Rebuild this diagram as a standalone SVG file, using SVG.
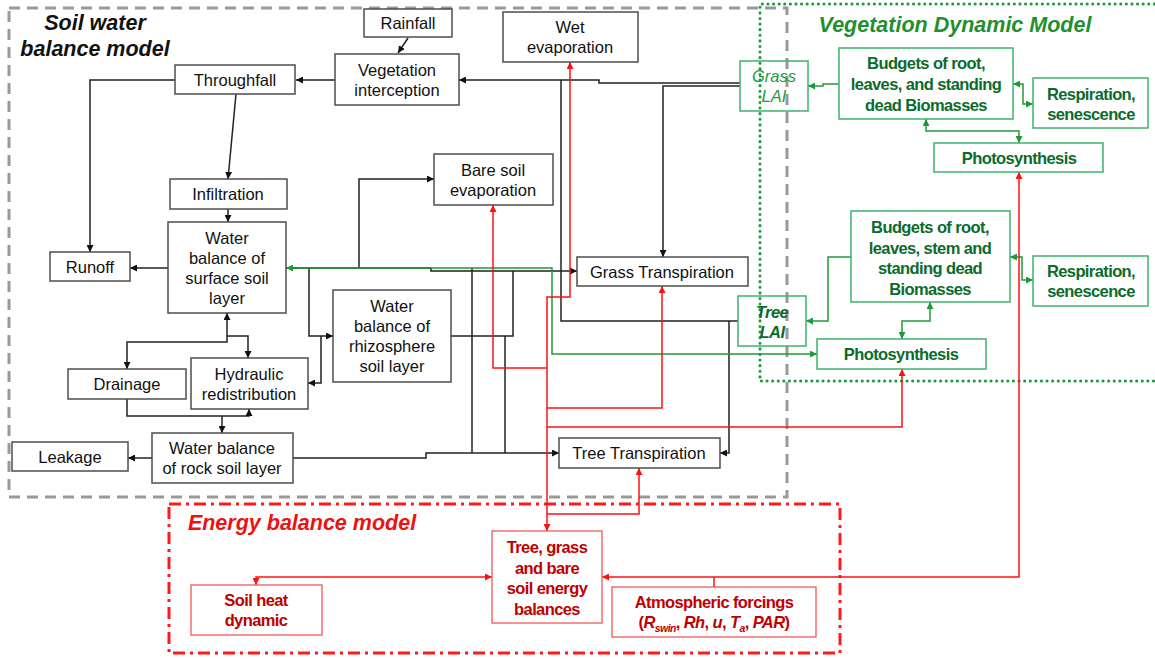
<svg xmlns="http://www.w3.org/2000/svg" width="1155" height="659" viewBox="0 0 1155 659">
<style>
text{font-family:"Liberation Sans",Arial,sans-serif;text-anchor:middle}
.bt{font-size:16.5px;fill:#111}
.gt{font-size:16.5px;font-weight:bold;fill:#0b6b2b;letter-spacing:-0.6px}
.rt{font-size:16.5px;font-weight:bold;fill:#c00000;letter-spacing:-0.6px}
.title{font-size:21.5px;font-weight:bold;font-style:italic}
.bn{fill:#fff;stroke:#4d4d4d;stroke-width:1.5}
.gn{fill:#fff;stroke:#3cb46e;stroke-width:1.5}
.gl{fill:none;stroke:#3cb46e;stroke-width:1.5}
.rn{fill:#fff;stroke:#f05a5a;stroke-width:1.3}
.c{fill:none;stroke:#222;stroke-width:1.5}
.g{fill:none;stroke:#1e9a3a;stroke-width:1.5}
.r{fill:none;stroke:#ff1010;stroke-width:1.5}
</style>
<defs>
<marker id="ak" viewBox="0 0 10 10" refX="10" refY="5" markerWidth="7" markerHeight="7" markerUnits="userSpaceOnUse" orient="auto-start-reverse"><path d="M0,0 L10,5 L0,10 z" fill="#111"/></marker>
<marker id="ag" viewBox="0 0 10 10" refX="10" refY="5" markerWidth="7" markerHeight="7" markerUnits="userSpaceOnUse" orient="auto-start-reverse"><path d="M0,0 L10,5 L0,10 z" fill="#1e9a3a"/></marker>
<marker id="ar" viewBox="0 0 10 10" refX="10" refY="5" markerWidth="7" markerHeight="7" markerUnits="userSpaceOnUse" orient="auto-start-reverse"><path d="M0,0 L10,5 L0,10 z" fill="#ff1010"/></marker>
</defs>

<g id="frames">
<rect x="9" y="8" width="778" height="489" fill="none" stroke="#999" stroke-width="3" stroke-dasharray="11 7"/>
<path d="M1160,4 H760 V381 H1160" fill="none" stroke="#1a9a3a" stroke-width="3" stroke-dasharray="0.1 5.5" stroke-linecap="round"/>
<rect x="169" y="504" width="671" height="149" fill="none" stroke="#ff1a1a" stroke-width="3" stroke-dasharray="12 5 3 5"/>
<text class="title" x="95" y="30" fill="#111">Soil water</text>
<text class="title" x="95" y="56" fill="#111">balance model</text>
<text class="title" x="955" y="32" fill="#1f8f2f">Vegetation Dynamic Model</text>
<text class="title" x="302" y="530" fill="#ee1111">Energy balance model</text>
</g>

<g id="connectors">
<path class="c" d="M408,38 L398,53" marker-end="url(#ak)"/>
<path class="c" d="M335,80 H296" marker-end="url(#ak)"/>
<path class="c" d="M175,80 H90 V252" marker-end="url(#ak)"/>
<path class="c" d="M236,94 L228,179" marker-end="url(#ak)"/>
<path class="c" d="M228,209 V222" marker-end="url(#ak)"/>
<path class="c" d="M168,268 H130" marker-end="url(#ak)"/>
<path class="c" d="M227,313 V342 H127 V369" marker-start="url(#ak)" marker-end="url(#ak)"/>
<path class="c" d="M227,336 H248 V358" marker-end="url(#ak)"/>
<path class="c" d="M127,399 V416 H249 V409" marker-end="url(#ak)"/>
<path class="c" d="M222,416 V433" marker-end="url(#ak)"/>
<path class="c" d="M152,458 H128" marker-end="url(#ak)"/>
<path class="c" d="M293,458 H426 V453 H559" marker-end="url(#ak)"/>
<path class="c" d="M286,268 H431 V271 H577" marker-end="url(#ak)"/>
<path class="c" d="M309,268 V336 H333" marker-end="url(#ak)"/>
<path class="c" d="M321,336 V383 H308" marker-end="url(#ak)"/>
<path class="c" d="M359,268 V179 H434" marker-end="url(#ak)"/>
<path class="c" d="M472,268 V453"/>
<path class="c" d="M451,336 H513 V271"/>
<path class="c" d="M505,336 V453"/>
<path class="c" d="M740,83 H599 V80 H459" marker-end="url(#ak)"/>
<path class="c" d="M740,86 H663 V257" marker-end="url(#ak)"/>
<path class="c" d="M738,321 H561 V80"/>
<path class="c" d="M729,321 V453 H720" marker-end="url(#ak)"/>

<path class="g" d="M286,268 H552 V354 H817" marker-start="url(#ag)" marker-end="url(#ag)"/>
<path class="g" d="M839,84 H823 V86 H808" marker-end="url(#ag)"/>
<path class="g" d="M1013,84 H1023 V104 H1033" marker-start="url(#ag)" marker-end="url(#ag)"/>
<path class="g" d="M926,119 V131 H1019 V143" marker-start="url(#ag)" marker-end="url(#ag)"/>
<path class="g" d="M851,257 H828 V321 H806" marker-end="url(#ag)"/>
<path class="g" d="M1010,257 H1022 V280 H1033" marker-start="url(#ag)" marker-end="url(#ag)"/>
<path class="g" d="M930,302 V321 H902 V339" marker-start="url(#ag)" marker-end="url(#ag)"/>

<path class="r" d="M547,531 V297 H570 V62" marker-start="url(#ar)" marker-end="url(#ar)"/>
<path class="r" d="M547,368 H493 V205" marker-end="url(#ar)"/>
<path class="r" d="M547,408 H662 V286" marker-end="url(#ar)"/>
<path class="r" d="M547,427 H902 V369" marker-end="url(#ar)"/>
<path class="r" d="M547,514 H639 V468" marker-end="url(#ar)"/>
<path class="r" d="M602,577 H1019 V172" marker-start="url(#ar)" marker-end="url(#ar)"/>
<path class="r" d="M714,577 V587"/>
<path class="r" d="M256,585 V577 H492" marker-start="url(#ar)" marker-end="url(#ar)"/>
</g>

<g id="rainfall"><rect class="bn" x="364" y="9" width="88" height="28"/><text class="bt" x="408" y="29">Rainfall</text></g>
<g id="wet-evaporation"><rect class="bn" x="503" y="12" width="135" height="50"/><text class="bt" x="570" y="33">Wet</text><text class="bt" x="570" y="53">evaporation</text></g>
<g id="vegetation-interception"><rect class="bn" x="335" y="54" width="124" height="51"/><text class="bt" x="397" y="75.5">Vegetation</text><text class="bt" x="397" y="95.5">interception</text></g>
<g id="throughfall"><rect class="bn" x="175" y="65" width="120" height="29"/><text class="bt" x="235" y="85.5">Throughfall</text></g>
<g id="infiltration"><rect class="bn" x="170" y="179" width="117" height="30"/><text class="bt" x="228" y="200">Infiltration</text></g>
<g id="surface-soil"><rect class="bn" x="168" y="222" width="118" height="91"/><text class="bt" x="227" y="243.5">Water</text><text class="bt" x="227" y="263.5">balance of</text><text class="bt" x="227" y="283.5">surface soil</text><text class="bt" x="227" y="303.5">layer</text></g>
<g id="runoff"><rect class="bn" x="50" y="252" width="80" height="29"/><text class="bt" x="90" y="272.5">Runoff</text></g>
<g id="drainage"><rect class="bn" x="68" y="369" width="118" height="30"/><text class="bt" x="127" y="390">Drainage</text></g>
<g id="hydraulic"><rect class="bn" x="191" y="358" width="117" height="51"/><text class="bt" x="249" y="379.5">Hydraulic</text><text class="bt" x="249" y="399.5">redistribution</text></g>
<g id="leakage"><rect class="bn" x="12" y="442" width="116" height="29"/><text class="bt" x="70" y="462.5">Leakage</text></g>
<g id="rock-soil"><rect class="bn" x="152" y="433" width="141" height="50"/><text class="bt" x="222" y="454">Water balance</text><text class="bt" x="222" y="474">of rock soil layer</text></g>
<g id="bare-soil"><rect class="bn" x="434" y="154" width="119" height="51"/><text class="bt" x="493" y="175.5">Bare soil</text><text class="bt" x="493" y="195.5">evaporation</text></g>
<g id="rhizosphere"><rect class="bn" x="333" y="290" width="118" height="92"/><text class="bt" x="392" y="312">Water</text><text class="bt" x="392" y="332">balance of</text><text class="bt" x="392" y="352">rhizosphere</text><text class="bt" x="392" y="372">soil layer</text></g>
<g id="grass-transpiration"><rect class="bn" x="577" y="257" width="171" height="29"/><text class="bt" x="662" y="277.5">Grass Transpiration</text></g>
<g id="tree-transpiration"><rect class="bn" x="559" y="438" width="161" height="30"/><text class="bt" x="639" y="459">Tree Transpiration</text></g>

<g id="grass-lai"><rect class="gl" x="740" y="61" width="68" height="50"/><text x="774" y="81.5" style="font-size:16.5px;font-style:italic;fill:#1f9a40">Grass</text><text x="774" y="101.5" style="font-size:16.5px;font-style:italic;fill:#1f9a40">LAI</text></g>
<g id="grass-budgets"><rect class="gn" x="839" y="48" width="174" height="71"/><text class="gt" x="926" y="69">Budgets of root,</text><text class="gt" x="926" y="90">leaves, and standing</text><text class="gt" x="926" y="111">dead Biomasses</text></g>
<g id="grass-respiration"><rect class="gn" x="1033" y="78" width="115" height="50"/><text class="gt" x="1091" y="99.5">Respiration,</text><text class="gt" x="1091" y="119.5">senescence</text></g>
<g id="grass-photosynthesis"><rect class="gn" x="934" y="143" width="169" height="29"/><text class="gt" x="1019" y="163.5">Photosynthesis</text></g>
<g id="tree-budgets"><rect class="gn" x="851" y="211" width="159" height="91"/><text class="gt" x="930" y="233">Budgets of root,</text><text class="gt" x="930" y="253.5">leaves, stem and</text><text class="gt" x="930" y="274">standing dead</text><text class="gt" x="930" y="294.5">Biomasses</text></g>
<g id="tree-respiration"><rect class="gn" x="1033" y="256" width="115" height="50"/><text class="gt" x="1091" y="277">Respiration,</text><text class="gt" x="1091" y="297">senescence</text></g>
<g id="tree-lai"><rect class="gl" x="738" y="296" width="68" height="50"/><text class="gt" x="772" y="317.5" style="font-style:italic">Tree</text><text class="gt" x="772" y="337.5" style="font-style:italic">LAI</text></g>
<g id="tree-photosynthesis"><rect class="gn" x="817" y="339" width="169" height="30"/><text class="gt" x="901" y="360">Photosynthesis</text></g>

<g id="energy-balances"><rect class="rn" x="492" y="531" width="110" height="92"/><text class="rt" x="547" y="553">Tree, grass</text><text class="rt" x="547" y="573.5">and bare</text><text class="rt" x="547" y="594">soil energy</text><text class="rt" x="547" y="614.5">balances</text></g>
<g id="soil-heat"><rect class="rn" x="191" y="585" width="131" height="50"/><text class="rt" x="256" y="606">Soil heat</text><text class="rt" x="256" y="626">dynamic</text></g>
<g id="atmospheric"><rect class="rn" x="612" y="587" width="204" height="50"/><text class="rt" x="714" y="608">Atmospheric forcings</text><text class="rt" x="714" y="628">(<tspan font-style="italic">R</tspan><tspan font-style="italic" font-size="10.5px" dy="4">swin</tspan><tspan dy="-4">, </tspan><tspan font-style="italic">Rh</tspan>, <tspan font-style="italic">u</tspan>, <tspan font-style="italic">T</tspan><tspan font-style="italic" font-size="10.5px" dy="4">a</tspan><tspan dy="-4">, </tspan><tspan font-style="italic">PAR</tspan>)</text></g>
</svg>
